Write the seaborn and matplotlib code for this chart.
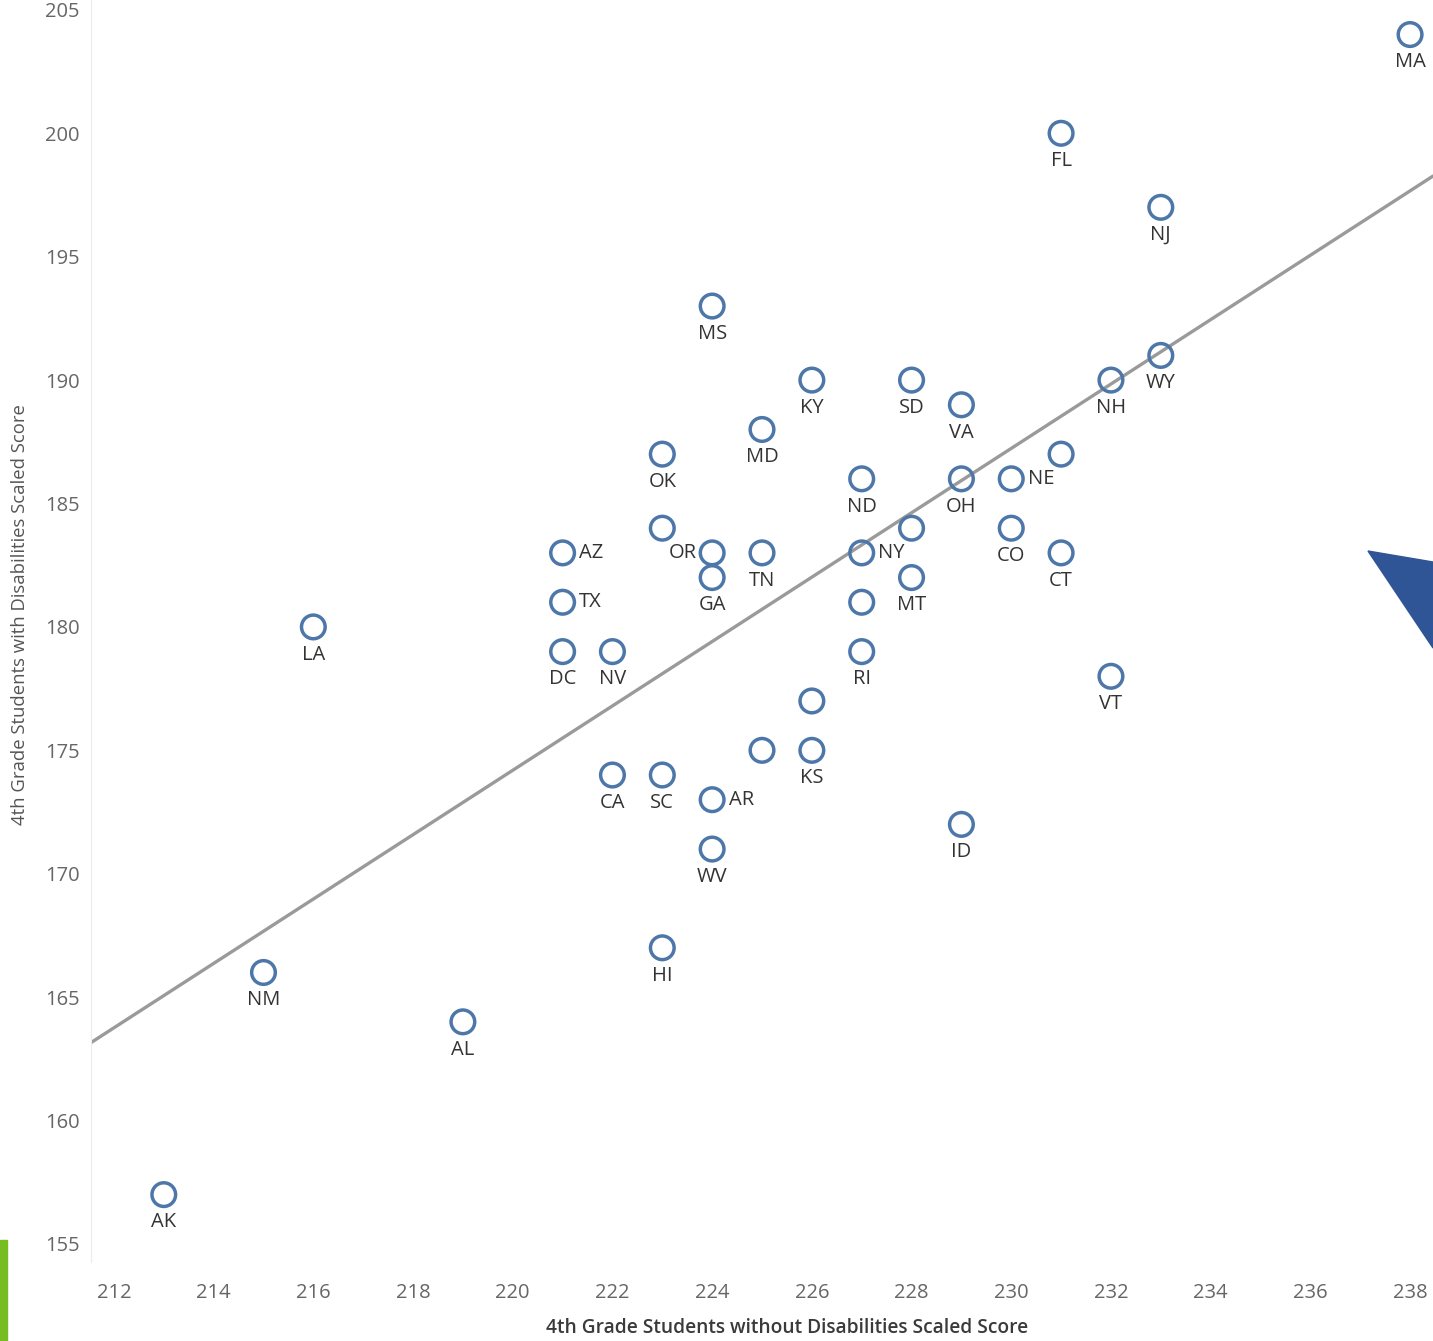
import matplotlib
matplotlib.use("Agg")
import matplotlib.pyplot as plt
from matplotlib.patches import Rectangle, Polygon
import seaborn as sns
import pandas as pd

# state scores: without disabilities (x) vs with disabilities (y)
states = ["MA", "FL", "NJ", "MS", "WY", "KY", "SD", "NH", "VA", "MD",
          "OK", "", "ND", "OH", "NE", "", "", "CO", "AZ", "OR",
          "TN", "NY", "CT", "GA", "MT", "TX", "", "LA", "DC", "NV",
          "RI", "VT", "", "", "KS", "CA", "SC", "AR", "ID", "WV",
          "HI", "NM", "AL", "AK"]
score_without = [238, 231, 233, 224, 233, 226, 228, 232, 229, 225,
                 223, 231, 227, 229, 230, 223, 228, 230, 221, 224,
                 225, 227, 231, 224, 228, 221, 227, 216, 221, 222,
                 227, 232, 226, 225, 226, 222, 223, 224, 229, 224,
                 223, 215, 219, 213]
score_with = [204, 200, 197, 193, 191, 190, 190, 190, 189, 188,
              187, 187, 186, 186, 186, 184, 184, 184, 183, 183,
              183, 183, 183, 182, 182, 181, 181, 180, 179, 179,
              179, 178, 177, 175, 175, 174, 174, 173, 172, 171,
              167, 166, 164, 157]

x_ticks = list(range(212, 239, 2))
y_ticks = list(range(155, 206, 5))

# where the state label sits relative to its circle
label_side = {"AZ": "right", "TX": "right", "NY": "right", "NE": "right",
              "AR": "right", "OR": "left"}

df = pd.DataFrame({"state": states, "x": score_without, "y": score_with})

blue = "#4e77a9"
grey_txt = "#666666"

sns.set_style("white")
plt.rcParams["font.family"] = ["Open Sans", "DejaVu Sans"]

fig = plt.figure(figsize=(14.33, 13.41), dpi=100)
ax = fig.add_axes([91 / 1433, 1 - 1262 / 1341, 1 - 91 / 1433, 1262 / 1341])

sns.scatterplot(data=df, x="x", y="y", marker="o", s=290,
                facecolor="none", edgecolor=blue, linewidth=2.5,
                zorder=3, ax=ax)
ax.set_xlim(211.54, 238.46)
ax.set_ylim(154.27, 205.4)
# trend line across the full axis width
sns.regplot(data=df, x="x", y="y", scatter=False, ci=None, truncate=False,
            line_kws={"color": "#9a9a9a", "lw": 2.4, "zorder": 1}, ax=ax)
ax.set_xlim(211.54, 238.46)
ax.set_ylim(154.27, 205.4)

for _, r in df.iterrows():
    if not r["state"]:
        continue
    side = label_side.get(r["state"], "below")
    if side == "below":
        kw = dict(xytext=(0, -20), ha="center", va="center")
    elif side == "right":
        kw = dict(xytext=(12, 0), ha="left", va="center")
    else:
        kw = dict(xytext=(-11, 0), ha="right", va="center")
    ax.annotate(r["state"], (r["x"], r["y"]), textcoords="offset points",
                fontsize=14.5, color="#333333", **kw)

ax.set_xticks(x_ticks)
ax.set_yticks(y_ticks)
ax.tick_params(axis="both", labelsize=14.5, colors="#d8d8d8",
               labelcolor=grey_txt, length=5, width=1)
ax.tick_params(axis="x", pad=10)
ax.tick_params(axis="y", pad=3)
for s in ["top", "right", "bottom"]:
    ax.spines[s].set_visible(False)
ax.spines["left"].set_color("#ececec")
ax.set_xlabel("")
ax.set_ylabel("")

fig.text(787 / 1433, 1 - 1328 / 1341,
         "4th Grade Students without Disabilities Scaled Score",
         ha="center", va="center", fontsize=13.8, fontweight="semibold",
         color="#3a3a3a")
fig.text(20 / 1433, 1 - 615 / 1341,
         "4th Grade Students with Disabilities Scaled Score",
         ha="center", va="center", rotation=90, fontsize=13.3,
         color="#555555")

# page decorations
fig.patches.append(Rectangle((0, 0), 7 / 1433, 101 / 1341,
                             transform=fig.transFigure, color="#77bd22",
                             zorder=5))
fig.patches.append(Polygon([(1368 / 1433, 1 - 551 / 1341),
                            (1.0, 1 - 562 / 1341),
                            (1.0, 1 - 648 / 1341)],
                           closed=True, transform=fig.transFigure,
                           color="#2f5597", zorder=5))

fig.savefig("out.png", dpi=100)
